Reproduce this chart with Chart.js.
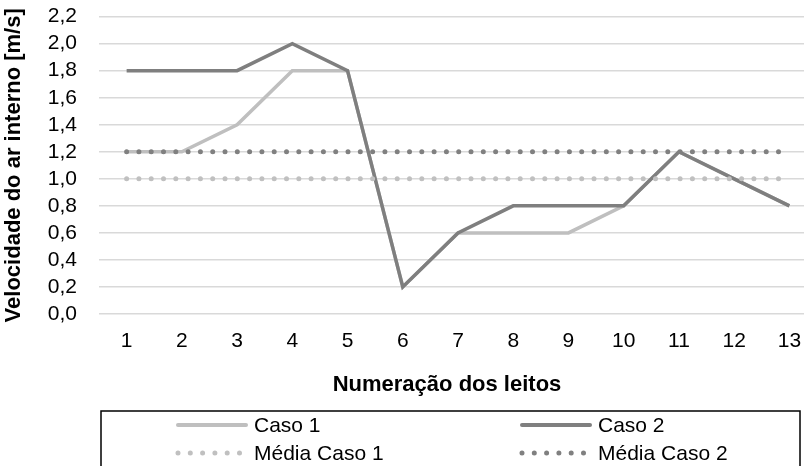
<!DOCTYPE html>
<html>
<head>
<meta charset="utf-8">
<script src="https://cdn.jsdelivr.net/npm/chart.js@4/dist/chart.umd.min.js"></script>
<style>
  html, body { margin: 0; padding: 0; background: #fff; }
  #wrap { width: 804px; height: 466px; overflow: hidden; position: relative; }
  canvas { display: block; }
</style>
</head>
<body>
<div id="wrap"><canvas id="c" width="820" height="466"></canvas></div>
<script>
const categories = ['1','2','3','4','5','6','7','8','9','10','11','12','13'];
const caso1 = [1.2, 1.2, 1.4, 1.8, 1.8, 0.2, 0.6, 0.6, 0.6, 0.8, 1.2, 1.0, 0.8];
const caso2 = [1.8, 1.8, 1.8, 2.0, 1.8, 0.2, 0.6, 0.8, 0.8, 0.8, 1.2, 1.0, 0.8];
const mediaCaso1 = [1.0, 1.0, 1.0, 1.0, 1.0, 1.0, 1.0, 1.0, 1.0, 1.0, 1.0, 1.0, 1.0];
const mediaCaso2 = [1.2, 1.2, 1.2, 1.2, 1.2, 1.2, 1.2, 1.2, 1.2, 1.2, 1.2, 1.2, 1.2];
const seriesNames = ['Caso 1', 'Caso 2', 'Média Caso 1', 'Média Caso 2'];
const xTitle = 'Numeração dos leitos';
const yTitle = 'Velocidade do ar interno [m/s]';
const yMin = 0, yMax = 2.2, yStep = 0.2;

const FONT = "'Liberation Sans', Arial, sans-serif";
const C1 = '#bfbfbf', C2 = '#7f7f7f', M1 = '#c0c0c0', M2 = '#808080';

const customDraw = {
  id: 'customDraw',
  afterDraw(chart) {
    const ctx = chart.ctx;
    ctx.save();
    ctx.fillStyle = '#000';
    ctx.font = "bold 22px " + FONT;
    ctx.textAlign = 'center';
    ctx.textBaseline = 'middle';
    ctx.fillText(xTitle, 447, 385);
    ctx.strokeStyle = '#000';
    ctx.lineWidth = 1.5;
    ctx.strokeRect(101, 411, 699, 80);
    const items = [
      {name: seriesNames[0], color: C1, dotted: false, x: 178, y: 425},
      {name: seriesNames[1], color: C2, dotted: false, x: 522, y: 425},
      {name: seriesNames[2], color: M1, dotted: true, x: 178, y: 453},
      {name: seriesNames[3], color: M2, dotted: true, x: 522, y: 453}
    ];
    ctx.font = "21px " + FONT;
    ctx.textAlign = 'left';
    for (const it of items) {
      ctx.strokeStyle = it.color;
      ctx.lineWidth = it.dotted ? 5 : 4;
      ctx.lineCap = 'round';
      ctx.setLineDash(it.dotted ? [0, 12.3] : []);
      ctx.beginPath();
      ctx.moveTo(it.x, it.y);
      ctx.lineTo(it.x + 68, it.y);
      ctx.stroke();
      ctx.setLineDash([]);
      ctx.fillStyle = '#000';
      ctx.fillText(it.name, it.x + 76, it.y + 1);
    }
    ctx.restore();
  }
};

new Chart(document.getElementById('c'), {
  type: 'line',
  data: {
    labels: categories,
    datasets: [
      {label: seriesNames[0], data: caso1, borderColor: C1, borderWidth: 3.5, pointRadius: 0, tension: 0, order: 3},
      {label: seriesNames[1], data: caso2, borderColor: C2, borderWidth: 3.5, pointRadius: 0, tension: 0, order: 2},
      {label: seriesNames[2], data: mediaCaso1, borderColor: M1, borderWidth: 5, borderDash: [0, 12.3], borderCapStyle: 'round', pointRadius: 0, tension: 0, order: 1},
      {label: seriesNames[3], data: mediaCaso2, borderColor: M2, borderWidth: 5, borderDash: [0, 12.3], borderCapStyle: 'round', pointRadius: 0, tension: 0, order: 0}
    ]
  },
  options: {
    responsive: false,
    animation: false,
    devicePixelRatio: 1,
    layout: { padding: { left: 0, right: 3, top: 0, bottom: 112 } },
    plugins: { legend: { display: false }, tooltip: { enabled: false }, title: { display: false } },
    scales: {
      x: {
        offset: true,
        grid: { display: false, drawTicks: false },
        border: { display: false },
        ticks: { color: '#000', font: { family: FONT, size: 21 }, padding: 15, maxRotation: 0, autoSkip: false },
        afterFit(s) { s.height = 40; }
      },
      y: {
        min: yMin, max: yMax,
        grid: { color: '#d9d9d9', lineWidth: 1.5, drawTicks: true, tickLength: 18, tickColor: 'rgba(0,0,0,0)' },
        border: { display: false },
        ticks: {
          stepSize: yStep, autoSkip: false, color: '#000', font: { family: FONT, size: 21 }, padding: 4,
          callback: v => (Math.round(v * 10) / 10).toFixed(1).replace('.', ',')
        },
        title: { display: true, text: yTitle, color: '#000', font: { family: FONT, size: 22, weight: 'bold' }, padding: { top: 1, bottom: 0 } },
        afterFit(s) { s.width = 99; }
      }
    }
  },
  plugins: [customDraw]
});
</script>
</body>
</html>
